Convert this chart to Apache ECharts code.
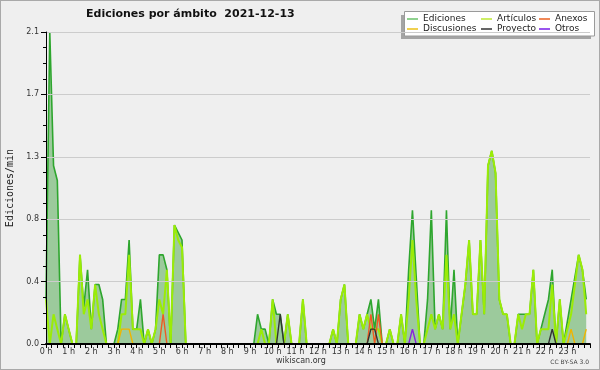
<!DOCTYPE html>
<html><head><meta charset="utf-8">
<script src="https://cdn.jsdelivr.net/npm/echarts@6/dist/echarts.min.js"></script>
<style>html,body{margin:0;padding:0;background:#efefef}#c{width:600px;height:370px}</style>
</head><body><div id="c"></div>
<script>
// 10-minute bins, 144 per day (6 per hour); values in edits per minute
const hourLabels = ["0 h","1 h","2 h","3 h","4 h","5 h","6 h","7 h","8 h","9 h","10 h","11 h","12 h","13 h","14 h","15 h","16 h","17 h","18 h","19 h","20 h","21 h","22 h","23 h"];
const seriesNames = ["Ediciones","Artículos","Anexos","Discusiones","Proyecto","Otros"];
const ediciones = [
 0.3,2.1,1.2,1.1,0,0.2,
 0.1,0,0,0.6,0.25,0.5,
 0.1,0.4,0.4,0.3,0,0,
 0,0.1,0.3,0.3,0.7,0.1,
 0.1,0.3,0,0.1,0,0.1,
 0.6,0.6,0.5,0,0.8,0.75,
 0.7,0,0,0,0,0,
 0,0,0,0,0,0,
 0,0,0,0,0,0,
 0,0,0.2,0.1,0.1,0,
 0.3,0.2,0.2,0,0.2,0,
 0,0,0.3,0,0,0,
 0,0,0,0,0.1,0,
 0.3,0.4,0,0,0,0.2,
 0.1,0.2,0.3,0.1,0.3,0,
 0,0.1,0,0,0.2,0,
 0.5,0.9,0.45,0,0,0.3,
 0.9,0.1,0.2,0.1,0.9,0.1,
 0.5,0,0.2,0.4,0.7,0.2,
 0.2,0.7,0.2,1.2,1.3,1.15,
 0.3,0.2,0.2,0,0,0.2,
 0.2,0.2,0.2,0.5,0,0.1,
 0.2,0.3,0.5,0,0.3,0,
 0.15,0.3,0.45,0.6,0.5,0.3];
const articulos = [
 0.3,0,0.2,0.1,0,0.2,
 0.1,0,0,0.6,0.2,0.3,
 0.1,0.4,0.2,0.1,0,0,
 0,0,0.2,0.2,0.6,0.1,
 0.1,0.1,0,0.1,0,0.1,
 0.3,0.2,0.5,0,0.8,0.7,
 0.65,0,0,0,0,0,
 0,0,0,0,0,0,
 0,0,0,0,0,0,
 0,0,0,0.1,0,0,
 0.3,0,0,0,0.2,0,
 0,0,0.3,0,0,0,
 0,0,0,0,0.1,0,
 0.3,0.4,0,0,0,0.2,
 0.1,0.2,0.1,0.1,0.1,0,
 0,0.1,0,0,0.2,0,
 0.3,0.7,0.3,0,0,0.1,
 0.2,0.1,0.2,0.1,0.6,0.1,
 0.2,0,0.2,0.4,0.7,0.2,
 0.2,0.7,0.2,1.2,1.3,1.15,
 0.3,0.2,0.2,0,0,0.2,
 0.1,0.2,0.2,0.5,0,0.1,
 0.1,0.1,0.4,0,0.3,0,
 0.1,0.2,0.4,0.6,0.5,0.2];
const anexos = [
 0,0,0,0,0,0, 0,0,0,0,0,0, 0,0,0,0,0,0, 0,0,0,0,0,0,
 0,0,0,0,0,0, 0,0.2,0,0,0,0, 0,0,0,0,0,0, 0,0,0,0,0,0,
 0,0,0,0,0,0, 0,0,0,0,0,0, 0,0,0,0,0,0, 0,0,0,0,0,0,
 0,0,0,0,0,0, 0,0,0,0,0,0, 0,0,0.2,0,0.2,0, 0,0,0,0,0,0,
 0,0,0,0,0,0, 0,0,0,0,0,0, 0,0,0,0,0,0, 0,0,0,0,0,0,
 0,0,0,0,0,0, 0,0,0,0,0,0, 0,0,0,0,0,0, 0,0,0,0,0,0];
const discusiones = [
 0,0,0,0,0,0, 0,0,0,0,0,0, 0,0,0,0,0,0, 0,0,0.1,0.1,0.1,0,
 0,0,0,0,0,0, 0,0,0,0,0,0, 0,0,0,0,0,0, 0,0,0,0,0,0,
 0,0,0,0,0,0, 0,0,0,0,0,0, 0,0,0,0,0,0, 0,0,0,0,0,0,
 0,0,0,0,0,0, 0,0,0,0,0,0, 0,0,0,0,0,0, 0,0,0,0,0,0,
 0,0,0,0,0,0, 0,0,0,0,0,0, 0,0,0,0,0,0, 0,0,0,0,0,0,
 0,0,0,0,0,0, 0,0,0,0,0,0, 0,0,0,0,0,0, 0,0.1,0,0,0,0.1];
const proyecto = [
 0,0,0,0,0,0, 0,0,0,0,0,0, 0,0,0,0,0,0, 0,0,0,0,0,0,
 0,0,0,0,0,0, 0,0,0,0,0,0, 0,0,0,0,0,0, 0,0,0,0,0,0,
 0,0,0,0,0,0, 0,0,0,0,0,0, 0,0,0.2,0,0,0, 0,0,0,0,0,0,
 0,0,0,0,0,0, 0,0,0,0,0,0, 0,0,0.1,0.1,0,0, 0,0,0,0,0,0,
 0,0,0,0,0,0, 0,0,0,0,0,0, 0,0,0,0,0,0, 0,0,0,0,0,0,
 0,0,0,0,0,0, 0,0,0,0,0,0, 0,0,0.1,0,0,0, 0,0,0,0,0,0];
const otros = [
 0,0,0,0,0,0, 0,0,0,0,0,0, 0,0,0,0,0,0, 0,0,0,0,0,0,
 0,0,0,0,0,0, 0,0,0,0,0,0, 0,0,0,0,0,0, 0,0,0,0,0,0,
 0,0,0,0,0,0, 0,0,0,0,0,0, 0,0,0,0,0,0, 0,0,0,0,0,0,
 0,0,0,0,0,0, 0,0,0,0,0,0, 0,0,0,0,0,0, 0,0,0,0,0,0,
 0,0.1,0,0,0,0, 0,0,0,0,0,0, 0,0,0,0,0,0, 0,0,0,0,0,0,
 0,0,0,0,0,0, 0,0,0,0,0,0, 0,0,0,0,0,0, 0,0,0,0,0,0];
const yTickStep = 0.42, yMax = 2.1;

const toXY = arr => arr.map((v, i) => [i / 6, v]);
const chart = echarts.init(document.getElementById('c'), null, {renderer: 'canvas'});
const lineSeries = (name, data, color, width, z) => ({
  name, type: 'line', data: toXY(data), showSymbol: false, symbol: 'none',
  lineStyle: {color, width}, itemStyle: {color}, z, animation: false, silent: true
});
const legendFont = {fontFamily: 'DejaVu Sans', fontSize: 9, color: '#222', lineHeight: 10};
const mkLegend = (left, items) => ({
  orient: 'vertical', left, top: 14, itemGap: 0, itemWidth: 11, itemHeight: 2,
  icon: 'rect', selectedMode: false, textStyle: legendFont, padding: 0,
  data: items.map(([name, color]) => ({name, itemStyle: {color, borderWidth: 0}, lineStyle: {width: 0}}))
});
chart.setOption({
  animation: false,
  backgroundColor: '#efefef',
  title: {text: 'Ediciones por ámbito  2021-12-13', left: 86, top: 8, padding: 0,
    textStyle: {fontFamily: 'DejaVu Sans', fontWeight: 'bold', fontSize: 11, color: '#111', lineHeight: 13}},
  graphic: [
    {type: 'rect', shape: {x: 0, y: 0, width: 600, height: 370}, style: {fill: 'none', stroke: '#a9a9a9', lineWidth: 2}, z: 0, silent: true},
    {type: 'rect', shape: {x: 401, y: 15, width: 190, height: 24}, style: {fill: '#a4a4a4'}, z: 1, silent: true},
    {type: 'rect', shape: {x: 404.5, y: 11.5, width: 190, height: 24.5}, style: {fill: '#ffffff', stroke: '#9a9a9a', lineWidth: 1}, z: 2, silent: true},
    {type: 'text', left: 276, top: 357, style: {text: 'wikiscan.org', font: '8px "DejaVu Sans"', fill: '#333'}, silent: true},
    {type: 'text', right: 11, top: 359, style: {text: 'CC BY-SA 3.0', font: '6px "DejaVu Sans"', fill: '#444'}, silent: true}
  ],
  legend: [
    mkLegend(407, [['Ediciones', '#8fd18f'], ['Discusiones', '#f0d050']]),
    mkLegend(481, [['Artículos', '#cdee66'], ['Proyecto', '#666666']]),
    mkLegend(539, [['Anexos', '#f08858'], ['Otros', '#9955ee']])
  ],
  grid: {left: 46, right: 10, top: 32, bottom: 26, containLabel: false, outerBoundsMode: 'none', show: false},
  xAxis: {
    type: 'value', min: 0, max: 24, interval: 1, z: 10,
    axisLine: {show: true, onZero: false, lineStyle: {color: '#000', width: 2}},
    axisTick: {show: true, length: 4, lineStyle: {color: '#000', width: 1}},
    minorTick: {show: true, splitNumber: 4, length: 4, lineStyle: {color: '#000', width: 1}},
    splitLine: {show: false},
    axisLabel: {margin: 4, fontFamily: 'DejaVu Sans', fontSize: 8, color: '#333',
      formatter: v => (v >= 0 && v < hourLabels.length) ? hourLabels[v] : ''}
  },
  yAxis: {
    type: 'value', min: 0, max: yMax, interval: yTickStep, z: 10,
    name: 'Ediciones/min', nameLocation: 'middle', nameGap: 31,
    nameTextStyle: {fontFamily: 'DejaVu Sans Mono', fontSize: 10, color: '#222'},
    axisLine: {show: true, lineStyle: {color: '#000', width: 1}},
    axisTick: {show: true, length: 5, lineStyle: {color: '#000'}},
    minorTick: {show: true, splitNumber: 4, length: 3, lineStyle: {color: '#000'}},
    splitLine: {show: true, lineStyle: {color: '#cccccc', width: 1}},
    axisLabel: {margin: 7, fontFamily: 'DejaVu Sans', fontSize: 8, color: '#333',
      formatter: v => v.toFixed(1)}
  },
  series: [
    Object.assign(lineSeries('Ediciones', ediciones, '#2ea62e', 1.6, 2), {areaStyle: {color: '#9cca9c', opacity: 1}}),
    lineSeries('Artículos', articulos, '#9bec06', 2, 3),
    lineSeries('Anexos', anexos, '#ee5a22', 1.4, 4),
    lineSeries('Discusiones', discusiones, '#f0b400', 1.4, 4),
    lineSeries('Proyecto', proyecto, '#333333', 1.4, 5),
    lineSeries('Otros', otros, '#8a22dd', 1.4, 5)
  ]
});
</script></body></html>
